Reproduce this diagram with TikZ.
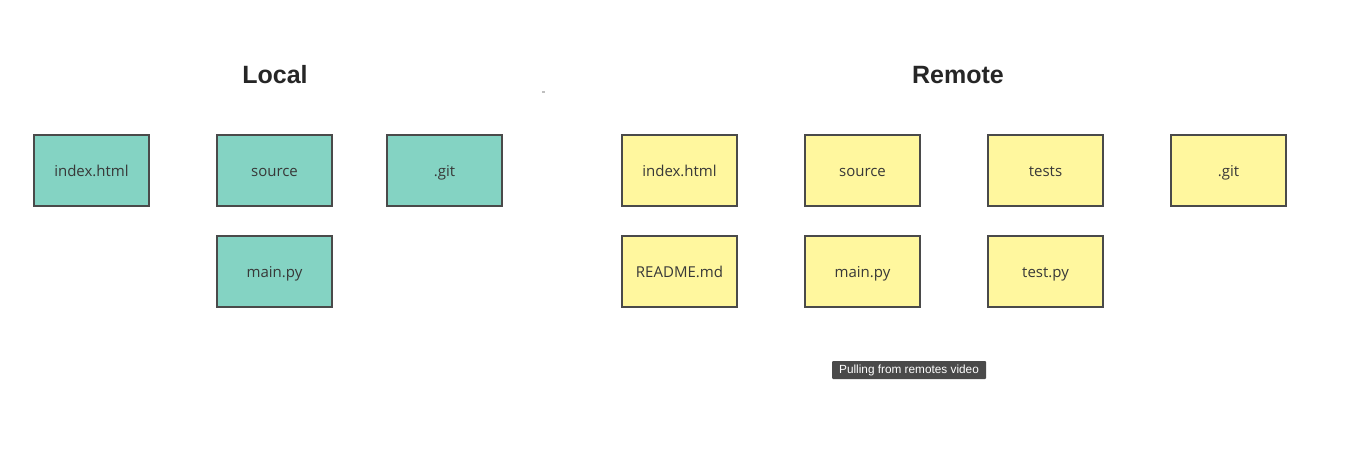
\documentclass[tikz,border=0pt]{standalone}
\usepackage{fontspec}
\setmainfont{Liberation Sans}
\newfontfamily\boxfont{Open Sans}
\definecolor{tealfill}{HTML}{84D3C3}
\definecolor{yellowfill}{HTML}{FFF79E}
\definecolor{boxline}{HTML}{4A4A4A}
\definecolor{tipfill}{HTML}{4A4A4A}
\tikzset{
  filebox/.style={draw=boxline, line width=1.8pt, minimum width=115.5pt, minimum height=71.5pt, inner sep=0pt, anchor=center, font=\boxfont\fontsize{15}{16}\selectfont, text=black!78, text height=13pt, text depth=1pt},
  localbox/.style={filebox, fill=tealfill},
  remotebox/.style={filebox, fill=yellowfill},
  title/.style={font=\bfseries\fontsize{25}{28}\selectfont, text=black!85},
  tip/.style={fill=tipfill, text=white, font=\fontsize{11.8}{13}\selectfont, minimum width=154pt, minimum height=18pt, inner sep=0pt, text height=9pt, text depth=2.5pt, rounded corners=1pt}
}
\begin{document}
\begin{tikzpicture}[x=1pt,y=-1pt]
\useasboundingbox[fill=white] (0,0) rectangle (1346,463);
\node[title] (local) at (275,75) {Local};
\node[title] (remote) at (958,75) {Remote};
\node[localbox] (lindex) at (91.5,170.5) {index.html};
\node[localbox] (lsource) at (274.5,170.5) {source};
\node[localbox] (lgit) at (444.5,170.5) {.git};
\node[localbox] (lmain) at (274.5,271.5) {main.py};
\node[remotebox] (rindex) at (679.5,170.5) {index.html};
\node[remotebox] (rsource) at (862.5,170.5) {source};
\node[remotebox] (rtests) at (1045.5,170.5) {tests};
\node[remotebox] (rgit) at (1228.5,170.5) {.git};
\node[remotebox] (rreadme) at (679.5,271.5) {README.md};
\node[remotebox] (rmain) at (862.5,271.5) {main.py};
\node[remotebox] (rtest) at (1045.5,271.5) {test.py};
\node[tip] (tooltip) at (909,370) {Pulling from remotes video};
\fill[black!25] (542,91) rectangle (545,93);
\end{tikzpicture}
\end{document}
